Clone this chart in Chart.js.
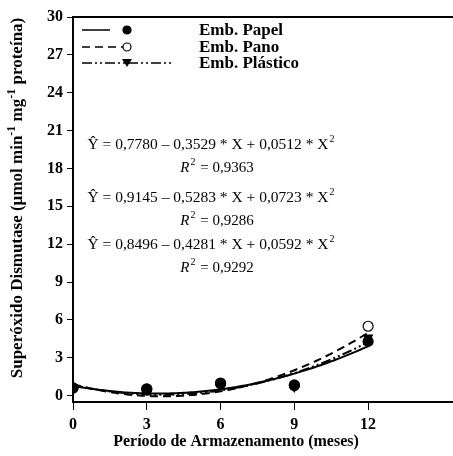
<!DOCTYPE html>
<html>
<head>
<meta charset="utf-8">
<script src="https://cdn.jsdelivr.net/npm/chart.js@4/dist/chart.umd.min.js"></script>
<style>
  html, body { margin: 0; padding: 0; background: #fff; overflow: hidden; }
  #wrap { width: 453px; height: 456px; position: relative; }
</style>
</head>
<body>
<div id="wrap"><canvas id="c"></canvas></div>
<script>
// Storage months
const months = [0, 3, 6, 9, 12];
// Observed SOD activity per packaging
const papel = [0.62, 0.55, 0.95, 0.80, 4.30];
const pano = [0.60, 0.50, 1.00, 0.85, 5.50];
const plastico = [0.58, 0.45, 0.90, 0.70, 4.60];
// Quadratic fits (b0, b1, b2) and R²
const fitPapel = [0.7780, -0.3529, 0.0512];
const fitPano = [0.9145, -0.5283, 0.0723];
const fitPlastico = [0.8496, -0.4281, 0.0592];
const r2 = ['0,9363', '0,9286', '0,9292'];
const yTicks = [0, 3, 6, 9, 12, 15, 18, 21, 24, 27, 30];
const xTicks = [0, 3, 6, 9, 12];
const seriesNames = ['Emb. Papel', 'Emb. Pano', 'Emb. Plástico'];
const xTitle = 'Período de Armazenamento (meses)';

const SERIF = '"Liberation Serif", "Times New Roman", serif';

function curve(c) {
  const pts = [];
  for (let i = 0; i <= 120; i++) {
    const x = i / 10;
    pts.push({ x, y: c[0] + c[1] * x + c[2] * x * x });
  }
  return pts;
}
const pairs = (ys) => months.map((m, i) => ({ x: m, y: ys[i] }));

const dashes = [[], [8, 5], [10, 3, 2, 3, 2, 3]];

const lineDs = (data, dash) => ({
  type: 'line', data, borderColor: '#000', borderWidth: 2, borderDash: dash,
  pointRadius: 0, fill: false, tension: 0, order: 1
});
const ptDs = (data, style, bg, rot) => ({
  type: 'scatter', data, pointStyle: style, pointRadius: 5, pointBackgroundColor: bg,
  pointBorderColor: '#000', pointBorderWidth: 1.2, pointRotation: rot || 0, order: 2
});

function fmt(v) { return v.toFixed(4).replace('.', ','); }

const decor = {
  id: 'decor',
  afterDraw(chart) {
    const ctx = chart.ctx;
    const a = chart.chartArea;
    const yAxisBottom = chart.scales.x.top;
    ctx.save();
    // top frame line and x-axis line run to the edge
    ctx.strokeStyle = '#000';
    ctx.lineWidth = 2;
    ctx.beginPath();
    ctx.moveTo(a.left - 1, a.top);
    ctx.lineTo(chart.width, a.top);
    ctx.moveTo(a.left - 1, yAxisBottom);
    ctx.lineTo(chart.width, yAxisBottom);
    ctx.stroke();

    // x axis title
    ctx.fillStyle = '#000';
    ctx.font = 'bold 16px ' + SERIF;
    ctx.textAlign = 'center';
    ctx.textBaseline = 'middle';
    ctx.fillText(xTitle, 236, 442);

    // legend
    const rows = [30, 47, 63];
    const lineEnd = [110, 123, 172];
    rows.forEach((y, i) => {
      ctx.lineWidth = 1.5;
      ctx.setLineDash(dashes[i]);
      ctx.beginPath();
      ctx.moveTo(82, y);
      ctx.lineTo(lineEnd[i], y);
      ctx.stroke();
      ctx.setLineDash([]);
      ctx.beginPath();
      if (i === 2) {
        ctx.moveTo(122, y - 4); ctx.lineTo(132, y - 4); ctx.lineTo(127, y + 4);
        ctx.closePath(); ctx.fillStyle = '#000'; ctx.fill();
      } else {
        ctx.arc(127, y, 4, 0, Math.PI * 2);
        ctx.fillStyle = i === 0 ? '#000' : '#fff';
        ctx.fill();
        ctx.lineWidth = 1.2; ctx.stroke();
      }
      ctx.fillStyle = '#000';
      ctx.textAlign = 'left';
      ctx.font = 'bold 17px ' + SERIF;
      ctx.fillText(seriesNames[i], 199, y + 1);
    });

    // regression equations
    const fits = [fitPapel, fitPano, fitPlastico];
    const eqY = [145, 198, 245];
    fits.forEach((c, i) => {
      const y = eqY[i];
      ctx.font = '15.5px ' + SERIF;
      ctx.textAlign = 'left';
      const s = 'Ŷ = ' + fmt(c[0]) + ' – ' + fmt(-c[1]) + ' * X + ' + fmt(c[2]) + ' * X';
      const w = ctx.measureText(s).width;
      const x0 = 211 - (w + 6) / 2;
      ctx.fillText(s, x0, y);
      ctx.font = '10px ' + SERIF;
      ctx.fillText('2', x0 + w + 1, y - 6);
      // R² line
      const yr = y + 23;
      ctx.font = 'italic 15px ' + SERIF;
      const rw = ctx.measureText('R').width;
      ctx.font = '15px ' + SERIF;
      const rest = ' = ' + r2[i];
      const restW = ctx.measureText(rest).width;
      const total = rw + 7 + restW;
      const rx = 217 - total / 2;
      ctx.font = 'italic 15px ' + SERIF;
      ctx.fillText('R', rx, yr);
      ctx.font = '10px ' + SERIF;
      ctx.fillText('2', rx + rw + 1, yr - 6);
      ctx.font = '15px ' + SERIF;
      ctx.fillText(rest, rx + rw + 7, yr);
    });

    // y axis title with superscripts
    ctx.translate(17, 198);
    ctx.rotate(-Math.PI / 2);
    const parts = [
      ['Superóxido Dismutase (µmol min', false],
      ['-1', true],
      [' mg', false],
      ['-1', true],
      [' proteína)', false]
    ];
    const big = 'bold 17px ' + SERIF, small = 'bold 12px ' + SERIF;
    let tw = 0;
    parts.forEach(p => { ctx.font = p[1] ? small : big; tw += ctx.measureText(p[0]).width; });
    let px = -tw / 2;
    ctx.textAlign = 'left';
    ctx.textBaseline = 'middle';
    parts.forEach(p => {
      ctx.font = p[1] ? small : big;
      ctx.fillText(p[0], px, p[1] ? -5 : 1);
      px += ctx.measureText(p[0]).width;
    });
    ctx.restore();
  }
};

new Chart(document.getElementById('c'), {
  data: {
    datasets: [
      lineDs(curve(fitPapel), dashes[0]),
      lineDs(curve(fitPano), dashes[1]),
      lineDs(curve(fitPlastico), dashes[2]),
      ptDs(pairs(papel), 'circle', '#000'),
      ptDs(pairs(pano), 'circle', '#fff'),
      ptDs(pairs(plastico), 'triangle', '#000', 180)
    ]
  },
  options: {
    responsive: true,
    maintainAspectRatio: false,
    animation: false,
    layout: { padding: { top: 17, right: 0, left: 0, bottom: 0 } },
    plugins: { legend: { display: false }, tooltip: { enabled: false } },
    scales: {
      x: {
        type: 'linear', min: 0, max: 15.2,
        afterBuildTicks: s => { s.ticks = xTicks.map(v => ({ value: v })); },
        afterFit: s => { s.height = 54; },
        grid: { drawOnChartArea: false, tickLength: 8, color: '#000', tickWidth: 1 },
        border: { display: true, color: '#000', width: 2 },
        ticks: { color: '#000', font: { family: SERIF, size: 16, weight: 'bold' }, padding: 5, maxRotation: 0 }
      },
      y: {
        type: 'linear', min: -0.5, max: 30,
        afterBuildTicks: s => { s.ticks = yTicks.map(v => ({ value: v })); },
        afterFit: s => { s.width = 73; },
        grid: { drawOnChartArea: false, tickLength: 6, color: '#000', tickWidth: 1 },
        border: { display: true, color: '#000', width: 2 },
        ticks: { color: '#000', font: { family: SERIF, size: 16, weight: 'bold' }, padding: 4 }
      }
    }
  },
  plugins: [decor]
});
</script>
</body>
</html>
